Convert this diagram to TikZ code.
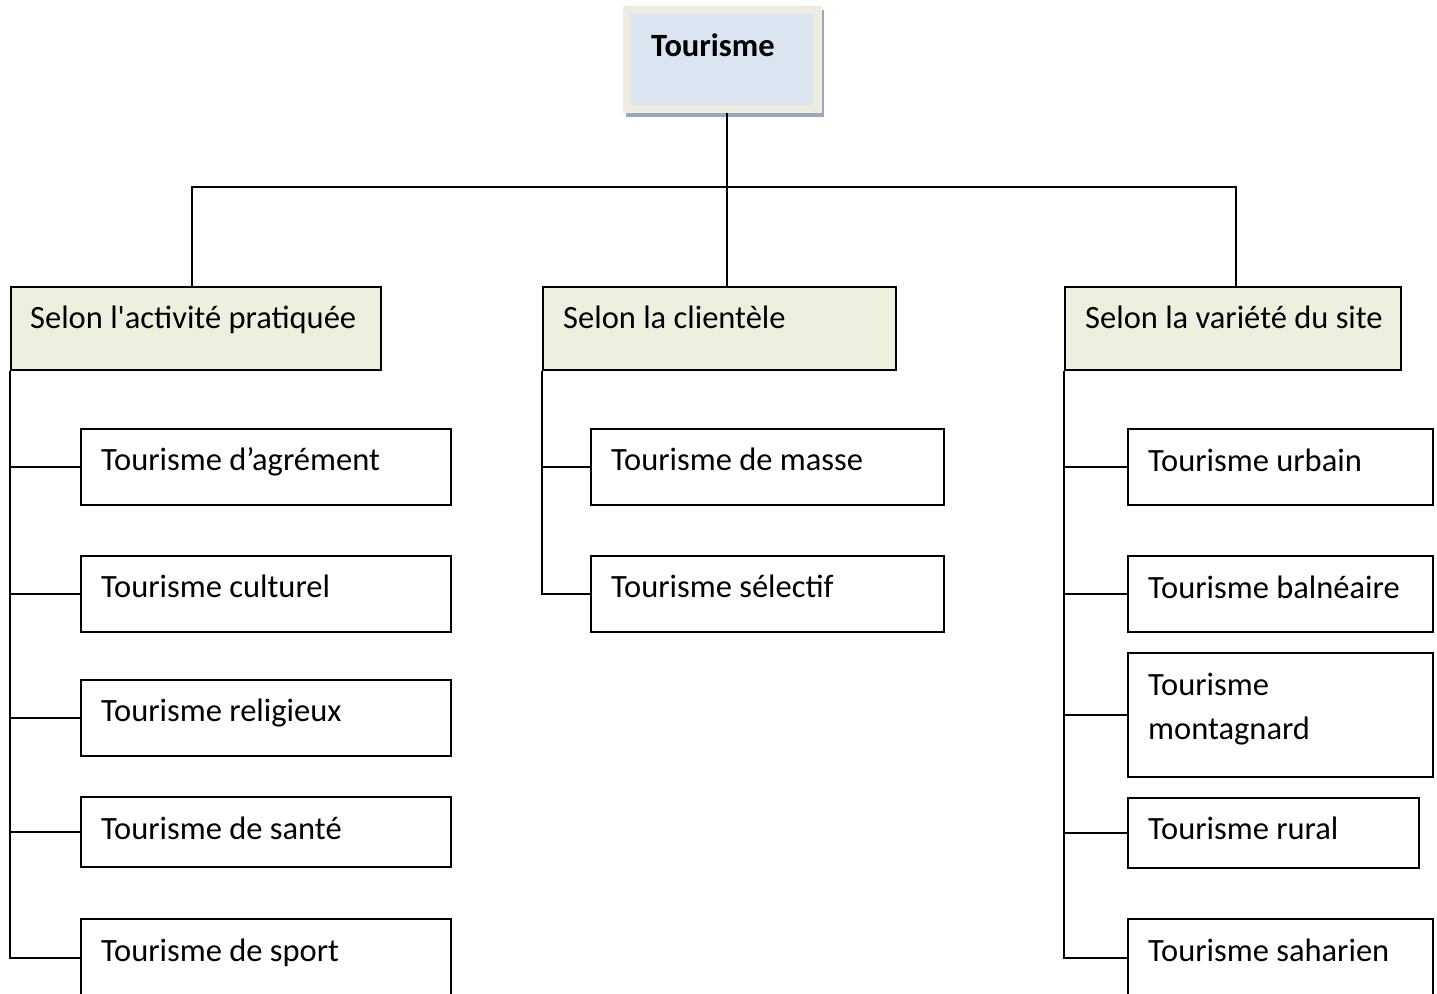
\documentclass[tikz,border=0pt]{standalone}
\usepackage{fontspec}
\setmainfont{Carlito}
\newfontfamily\calib{Carlito}
\definecolor{beige}{HTML}{EEECE1}
\definecolor{lblue}{HTML}{DBE5F1}
\definecolor{lgreen}{HTML}{EBF1DE}
\definecolor{shadowc}{HTML}{9AA8BC}
\tikzset{
  box/.style={draw=black, line width=1.6pt, rectangle, inner sep=0pt, anchor=north west},
  catbox/.style={box, fill=lgreen, minimum height=83pt},
  leaf/.style={box, fill=white},
  lbl/.style={anchor=base west, inner sep=0pt, font=\calib\fontsize{32.5}{44}\selectfont, align=left},
  conn/.style={draw=black, line width=1.6pt},
}
\begin{document}
\begin{tikzpicture}[x=1pt,y=-1pt]
\clip (0,0) rectangle (1437,993);
\fill[white] (0,0) rectangle (1437,993);
% top box
\fill[shadowc] (626,10) rectangle (824,117);
\node[anchor=north west, fill=beige, minimum width=199pt, minimum height=107pt, inner sep=0pt] (top) at (623,6) {};
\node[anchor=north west, fill=lblue, minimum width=182pt, minimum height=91pt, inner sep=0pt] (topin) at (631,14) {};
\node[lbl, font=\calib\fontsize{32.5}{44}\selectfont\bfseries] (toptxt) at (651,56) {Tourisme};
% level 1
\node[catbox, minimum width=370pt] (A) at (10,286) {};
\node[lbl] (Atxt) at (30,328) {Selon l'activité pratiquée};
\node[catbox, minimum width=353pt] (B) at (542,286) {};
\node[lbl] (Btxt) at (563,328) {Selon la clientèle};
\node[catbox, minimum width=336pt] (C) at (1064,286) {};
\node[lbl] (Ctxt) at (1085,328) {Selon la variété du site};
% connectors top
\coordinate (j) at (727,187);
\coordinate (topb) at (727,113);
\draw[conn] (topb) -- (j);
\draw[conn] ([xshift=-4pt]A.north) |- (j) -| ([xshift=3pt]C.north);
\draw[conn] (j) -- (j |- B.north);
% left children
\node[leaf, minimum width=370pt, minimum height=76pt] (a1) at (80,428) {};
\node[lbl] at (101,470) {Tourisme d’agrément};
\node[leaf, minimum width=370pt, minimum height=76pt] (a2) at (80,555) {};
\node[lbl] at (101,597) {Tourisme culturel};
\node[leaf, minimum width=370pt, minimum height=76pt] (a3) at (80,679) {};
\node[lbl] at (101,721) {Tourisme religieux};
\node[leaf, minimum width=370pt, minimum height=70pt] (a4) at (80,796) {};
\node[lbl] at (101,839) {Tourisme de santé};
\node[leaf, minimum width=370pt, minimum height=110pt] (a5) at (80,918) {};
\node[lbl] at (101,961) {Tourisme de sport};
\coordinate (a5c) at ([yshift=16pt]a5.west);
\draw[conn] (A.south west) |- (a5c);
\foreach \n in {a1,a2,a3,a4}
  \draw[conn] (\n.west) -- (\n.west -| A.south west);
% middle children
\node[leaf, minimum width=353pt, minimum height=76pt] (b1) at (590,428) {};
\node[lbl] at (611,470) {Tourisme de masse};
\node[leaf, minimum width=353pt, minimum height=76pt] (b2) at (590,555) {};
\node[lbl] at (611,597) {Tourisme sélectif};
\draw[conn] (B.south west) |- (b2.west);
\draw[conn] (b1.west) -- (b1.west -| B.south west);
% right children
\node[leaf, minimum width=305pt, minimum height=76pt] (c1) at (1127,428) {};
\node[lbl] at (1148,471) {Tourisme urbain};
\node[leaf, minimum width=305pt, minimum height=76pt] (c2) at (1127,555) {};
\node[lbl] at (1148,598) {Tourisme balnéaire};
\node[leaf, minimum width=305pt, minimum height=124pt] (c3) at (1127,652) {};
\node[lbl] at (1148,739) {Tourisme\\montagnard};
\node[leaf, minimum width=291pt, minimum height=70pt] (c4) at (1127,797) {};
\node[lbl] at (1148,839) {Tourisme rural};
\node[leaf, minimum width=305pt, minimum height=110pt] (c5) at (1127,918) {};
\node[lbl] at (1148,961) {Tourisme saharien};
\coordinate (c5c) at ([yshift=16pt]c5.west);
\draw[conn] (C.south west) |- (c5c);
\foreach \n in {c1,c2,c3,c4}
  \draw[conn] (\n.west) -- (\n.west -| C.south west);
\end{tikzpicture}
\end{document}
